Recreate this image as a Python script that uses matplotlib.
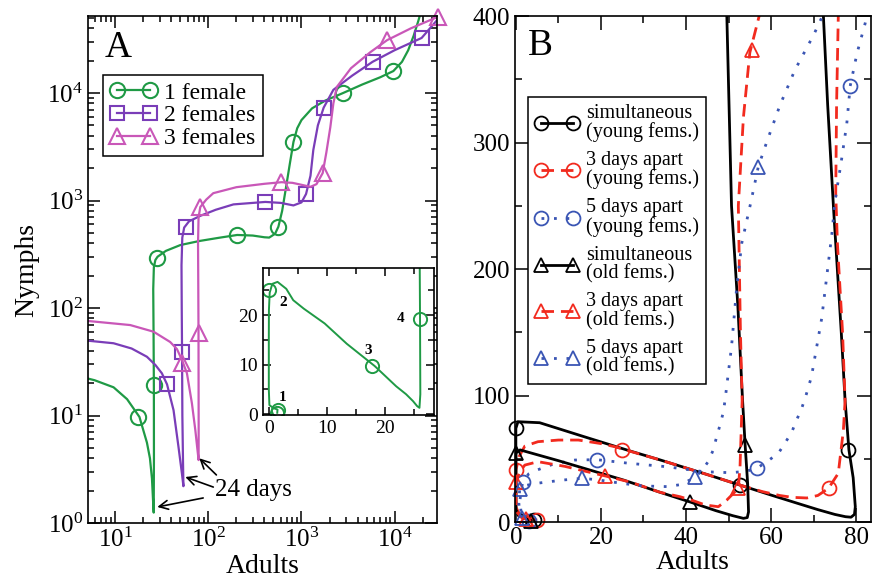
import numpy as np
import matplotlib
matplotlib.use('Agg')
import matplotlib.pyplot as plt
from matplotlib.lines import Line2D
from matplotlib.ticker import MultipleLocator

plt.rcParams['font.family'] = ['Liberation Serif', 'DejaVu Serif']
plt.rcParams['mathtext.fontset'] = 'custom'
plt.rcParams['mathtext.rm'] = 'Liberation Serif'
plt.rcParams['mathtext.it'] = 'Liberation Serif:italic'
plt.rcParams['mathtext.bf'] = 'Liberation Serif:bold'

GREEN = '#1f9a45'
PURPLE = '#7a3db8'
PINK = '#c957b8'
RED = '#f22a1e'
BLUE = '#3a55b4'

## ---- panel A: log-log phase trajectories (adults, nymphs) ----
ad_1f = [1.45, 1.5, 0.8, 0.1, 0.0, 0.0, 0.02, 0.15, 0.6, 1.5,
         3.0, 4.2, 6.0, 9.6, 13.4, 18.2, 21.9, 23.6, 24.8, 25.5,
         25.9, 26.05, 26.0, 25.8, 25.6, 26.0, 27.0, 28.5, 35, 50,
         80, 130, 204, 300, 400, 450, 520, 565, 620, 680,
         750, 820, 900, 1000, 1300, 1800, 2800, 4500, 7000, 9700,
         12000, 14000, 16000, 18000, 19500]
ny_1f = [0.25, 0.9, 1.2, 1.8, 5, 15, 21, 24.5, 26.3, 26.7,
         25.3, 23.0, 21.3, 18.3, 14.2, 9.7, 5.6, 4.0, 2.6, 1.6,
         1.25, 4, 19, 60, 150, 240, 280, 300, 340, 385,
         420, 450, 478, 472, 455, 452, 490, 570, 800, 1300,
         2200, 3500, 4700, 5600, 7200, 8500, 10000, 12000, 14000, 16000,
         19500, 25000, 34000, 47000, 60000]
ad_1f_mk = [1.45, 1.5, 0.0, 17.7, 25.95, 28, 204, 565, 820, 2800, 9700]
ny_1f_mk = [0.25, 0.9, 25, 9.7, 19.2, 294, 480, 570, 3500, 10000, 16000]

ad_2f = [1, 4.2, 9.6, 15, 21.9, 27, 31.7, 36, 42.3, 47.8,
         52, 54, 53.5, 52.6, 52.2, 51.8, 51.5, 52.5, 55, 62,
         82, 120, 186, 410, 600, 820, 1000, 1120, 1250, 1340,
         1500, 1730, 2200, 3500, 5800, 10000, 19500, 30000]
ny_2f = [55, 50.5, 47, 42, 35.2, 29.5, 24.7, 19.5, 11.2, 5.1,
         2.9, 2.2, 3.5, 10, 39, 100, 250, 450, 560, 640,
         720, 820, 920, 970, 950, 900, 960, 1150, 1700, 2950,
         5000, 7300, 10700, 14500, 19500, 25000, 32500, 50000]
ad_2f_mk = [36, 52.5, 57, 410, 1120, 1730, 5800, 19500]
ny_2f_mk = [19.5, 39, 570, 970, 1150, 7300, 19500, 32500]

ad_3f = [1, 4.2, 14.5, 25.8, 38.9, 46, 52, 58.9, 66.6, 72.5,
         76, 78.6, 78.7, 78.5, 78.4, 78, 77.5, 78.5, 82, 95,
         113, 200, 400, 610, 800, 1000, 1250, 1450, 1690, 1850,
         2040, 2200, 2400, 3400, 5500, 8300, 15000, 29000, 35000]
ny_3f = [80, 77, 69.4, 60.2, 48.3, 41.5, 33, 24.7, 13, 7.3,
         5, 3.85, 8, 25, 59, 150, 400, 700, 870, 1020,
         1170, 1330, 1430, 1480, 1460, 1400, 1340, 1420, 1800, 2800,
         4800, 8000, 11400, 17000, 24000, 31000, 40000, 51000, 56000]
ad_3f_mk = [52, 78.5, 82, 610, 1690, 8300, 29000]
ny_3f_mk = [31, 59, 870, 1480, 1800, 31000, 51000]

labels_A = ['1 female', '2 females', '3 females']
inset_tags = ['1', '2', '3', '4']

## ---- panel B: linear phase trajectories ----
ad_sim_y = [4.3, 2.5, 0.8, 0.0, 0.0, 0.0, 0.5, 5.6, 16, 27, 34, 45, 52.7, 60, 66,
            71, 75, 77.5, 78.8, 79.6, 79.8, 79.3, 78.3, 77.4, 76.5, 74.7, 73.3, 72.3, 72]
ny_sim_y = [1.5, 4, 6.5, 10, 40, 74, 79.3, 78.5, 67.5, 56, 49, 37.5, 29.2, 21.3, 15,
            9.8, 6, 4.2, 3.8, 6, 12, 35, 57, 96, 150, 247, 330, 400, 420]
ad_sim_y_mk = [4.3, 0.0, 52.7, 78.2]
ny_sim_y_mk = [1.5, 74, 29.2, 57]

ad_3d_y = [5, 3, 1, 0, 0, 0, 0.8, 2.1, 5.2, 10, 14.7, 20, 23.3, 27, 34, 45, 52.7, 58,
           62, 65, 68.4, 71, 73.5, 75.8, 77, 77.4, 76.8, 75.6, 75.2, 75.4, 75.8, 76]
ny_3d_y = [1.5, 3, 5, 12, 25, 41, 52, 60, 63.5, 64.8, 64.8, 62, 59.5, 55.8, 49, 37.5, 29.2, 24,
           21, 19.5, 19, 21, 26.6, 38.5, 72.7, 96, 150, 220, 260, 330, 400, 420]
ad_3d_y_mk = [5, 0.0, 24.9, 73.5]
ny_3d_y_mk = [1.5, 41, 57, 26.6]

ad_5d_y = [3, 2, 1.2, 1.0, 1.3, 1.7, 3, 4.9, 9, 13.9, 19, 23.3, 26.4, 35.5, 44.1, 50.4, 54,
           56.6, 59, 61.7, 63.3, 64.9, 66, 67.2, 68.2, 69.5, 71.9, 74.3, 75, 76.5, 77.8, 78.6,
           80.2, 82.1, 82.6]
ny_5d_y = [1, 3, 8, 18, 27, 31.9, 38, 41, 46, 49, 49.3, 47.7, 46.5, 43.7, 39.8, 39, 40,
           42.4, 47.7, 54.3, 62.5, 71.4, 80.6, 89.9, 100, 115, 161, 228, 253, 285, 315, 344.7,
           370.5, 394, 402]
ad_5d_y_mk = [3, 1.7, 19, 56.6, 78.6]
ny_5d_y_mk = [1, 31.9, 49.3, 42.4, 344.7]

ad_sim_o = [3.5, 2, 0.6, 0.0, 0.0, 0.0, 1, 10, 20, 25.3, 33.9, 41, 47, 51, 53.5, 54.4,
            54.7, 54.5, 53.9, 53.3, 52.2, 50.7, 49.6, 49.5]
ny_sim_o = [1.2, 3, 5, 10, 30, 54.5, 57, 48.5, 38.5, 33.2, 23.5, 15.8, 9, 5, 2.9, 3.5,
            8, 30, 61, 96, 170, 250, 400, 420]
ad_sim_o_mk = [3.5, 0.0, 41, 53.9]
ny_sim_o_mk = [1.2, 54.5, 15.8, 61]

ad_3d_o = [2.5, 1.2, 0.2, 0, 0, 1, 2.1, 5.2, 11.5, 20.9, 27, 33.9, 38.6, 42, 44.5, 47.6,
           49.6, 52.3, 52.7, 53.2, 52.8, 52.3, 53.5, 55, 57.2, 57.5]
ny_3d_o = [2, 4, 8, 20, 32, 40, 45, 47.7, 44, 36.5, 31.5, 23.5, 20, 16.5, 13.5, 12.1,
           17.4, 26.6, 43.7, 96, 150, 250, 320, 371, 400, 420]
ad_3d_o_mk = [2.5, 0.0, 20.9, 52.3, 55.5]
ny_3d_o_mk = [2, 32, 36.5, 26.6, 373]

ad_5d_o = [1.5, 0.9, 0.7, 0.8, 0.9, 2.5, 4.9, 11.1, 15.5, 19, 25, 30, 35.5, 38.6, 42, 43.8,
           45.2, 46.4, 47.2, 48, 48.8, 49.2, 50.7, 51.9, 53.1, 55.1, 57, 59, 62.1, 65.6, 70,
           71.8, 72.5]
ny_5d_o = [3.5, 8, 15, 21, 25.8, 29, 30.6, 33.2, 34.5, 33.5, 30.5, 28.5, 28, 29.5, 35, 41,
           47.7, 56.9, 67.4, 76.7, 87.2, 97, 138.6, 184.7, 220.3, 250.6, 280.9, 300.6, 329.6,
           357.3, 385, 398, 403]
ad_5d_o_mk = [1.5, 0.9, 15.5, 42, 57]
ny_5d_o_mk = [3.5, 25.8, 34.5, 35.2, 280.9]

labels_B = ['simultaneous\n(young fems.)', '3 days apart\n(young fems.)',
            '5 days apart\n(young fems.)', 'simultaneous\n(old fems.)',
            '3 days apart\n(old fems.)', '5 days apart\n(old fems.)']


def style_ax(ax, maj, mnr, size):
    ax.tick_params(which='both', direction='in', top=True, right=True,
                   labelsize=size, width=1.1)
    ax.tick_params(which='major', length=maj)
    ax.tick_params(which='minor', length=mnr)
    for s in ax.spines.values():
        s.set_linewidth(1.2)


fig = plt.figure(figsize=(8.72, 5.87), dpi=100)

## panel A
axA = fig.add_axes([0.1009, 0.1090, 0.4002, 0.8637])
axA.set_xscale('log', nonpositive='mask')
axA.set_yscale('log', nonpositive='mask')
seriesA = [(ad_1f, ny_1f, ad_1f_mk, ny_1f_mk, GREEN, 'o', 11, True),
           (ad_2f, ny_2f, ad_2f_mk, ny_2f_mk, PURPLE, 's', 10, False),
           (ad_3f, ny_3f, ad_3f_mk, ny_3f_mk, PINK, '^', 11, False)]
handlesA = []
for x, y, mx, my, c, m, ms, clip in seriesA:
    axA.plot(x, y, color=c, lw=1.6)
    axA.plot(mx, my, ls='none', marker=m, ms=ms, mfc='none', mec=c, mew=1.5,
             clip_on=clip)
    handlesA.append(Line2D([], [], color=c, lw=1.6, marker=m, ms=ms,
                           mfc='none', mec=c, mew=1.5))
axA.set_xlim(5.1, 28500)
axA.set_ylim(1, 52000)
style_ax(axA, 8.5, 4.5, 18)
axA.set_xlabel('Adults', fontsize=20, labelpad=1)
axA.set_ylabel('Nymphs', fontsize=20, labelpad=6)
axA.text(0.049, 0.919, 'A', transform=axA.transAxes, fontsize=27)
legA = axA.legend(handlesA, labels_A, loc='upper left', bbox_to_anchor=(0.043, 0.8836),
                  borderaxespad=0, fontsize=17, numpoints=2, handlelength=2.0,
                  handletextpad=0.3, labelspacing=0.05, borderpad=0.3,
                  fancybox=False, edgecolor='k', framealpha=1)
legA.get_frame().set_linewidth(1.1)

## "24 days" arrows to the three minima
axA.text(302, 2.03, '24 days', fontsize=18, ha='center', va='center')
for tail, tip in [((88, 1.71), (28.3, 1.41)), ((113, 2.16), (56.6, 2.68)),
                  ((122, 2.8), (80, 4.0))]:
    axA.annotate('', xy=tip, xytext=tail,
                 arrowprops=dict(arrowstyle='->', color='k', lw=1.2,
                                 shrinkA=0, shrinkB=0, mutation_scale=16))

## inset of the 1-female trajectory on linear axes
axIn = fig.add_axes([0.3016, 0.2930, 0.1961, 0.2504])
axIn.plot(ad_1f, ny_1f, color=GREEN, lw=1.4)
axIn.plot(ad_1f_mk, ny_1f_mk, ls='none', marker='o', ms=9.5, mfc='none',
          mec=GREEN, mew=1.4)
axIn.set_xlim(-1.0, 28.4)
axIn.set_ylim(-0.2, 29.5)
axIn.xaxis.set_major_locator(MultipleLocator(10))
axIn.xaxis.set_minor_locator(MultipleLocator(5))
axIn.yaxis.set_major_locator(MultipleLocator(10))
axIn.yaxis.set_minor_locator(MultipleLocator(5))
style_ax(axIn, 6, 4, 14)
for tag, (tx, ty) in zip(inset_tags, [(2.4, 3.4), (2.4, 22.6), (17.0, 12.9), (22.6, 19.2)]):
    axIn.text(tx, ty, tag, fontsize=11, fontweight='bold', ha='center', va='center')

## panel B
axB = fig.add_axes([0.5906, 0.1107, 0.4083, 0.8620])
seriesB = [(ad_sim_y, ny_sim_y, ad_sim_y_mk, ny_sim_y_mk, 'k', '-', 'o'),
           (ad_3d_y, ny_3d_y, ad_3d_y_mk, ny_3d_y_mk, RED, (0, (4.5, 2.5)), 'o'),
           (ad_5d_y, ny_5d_y, ad_5d_y_mk, ny_5d_y_mk, BLUE, (0, (1, 3.5)), 'o'),
           (ad_sim_o, ny_sim_o, ad_sim_o_mk, ny_sim_o_mk, 'k', '-', '^'),
           (ad_3d_o, ny_3d_o, ad_3d_o_mk, ny_3d_o_mk, RED, (0, (4.5, 2.5)), '^'),
           (ad_5d_o, ny_5d_o, ad_5d_o_mk, ny_5d_o_mk, BLUE, (0, (1, 3.5)), '^')]
handlesB = []
for x, y, mx, my, c, ls, m in seriesB:
    axB.plot(x, y, color=c, ls=ls, lw=2.0)
    axB.plot(mx, my, ls='none', marker=m, ms=10, mfc='none', mec=c, mew=1.3,
             clip_on=False)
    handlesB.append(Line2D([], [], color=c, ls=ls, lw=2.0, marker=m, ms=10,
                           mfc='none', mec=c, mew=1.3))
axB.set_xlim(-0.2, 83.5)
axB.set_ylim(0, 400)
axB.xaxis.set_major_locator(MultipleLocator(20))
axB.xaxis.set_minor_locator(MultipleLocator(10))
axB.yaxis.set_major_locator(MultipleLocator(100))
axB.yaxis.set_minor_locator(MultipleLocator(50))
style_ax(axB, 10, 5, 18)
axB.set_xlabel('Adults', fontsize=20, labelpad=1)
axB.text(0.036, 0.923, 'B', transform=axB.transAxes, fontsize=27)
legB = axB.legend(handlesB, labels_B, loc='upper left', bbox_to_anchor=(0.036, 0.84),
                  borderaxespad=0, fontsize=14.5, numpoints=2, handlelength=2.2,
                  handletextpad=0.35, labelspacing=0.45, borderpad=0.35,
                  fancybox=False, edgecolor='k', framealpha=1)
legB.get_frame().set_linewidth(1.1)
for t in legB.get_texts():
    t.set_linespacing(0.95)

fig.savefig('out.png', dpi=100)
